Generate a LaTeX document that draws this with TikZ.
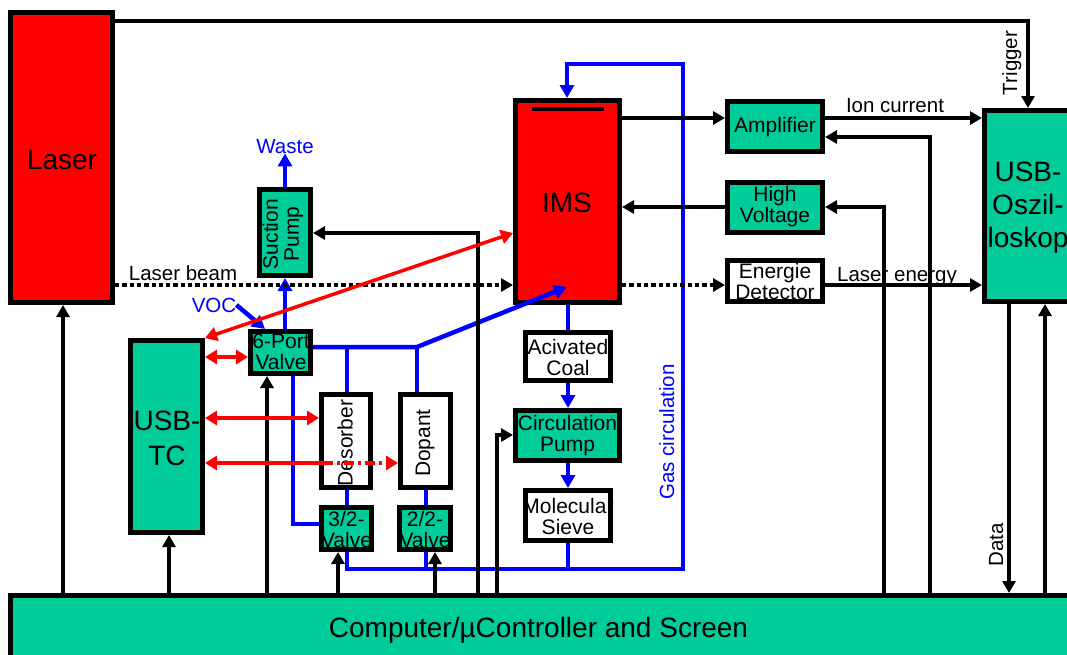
\documentclass[tikz,border=0pt]{standalone}
\usepackage{fontspec}
\setmainfont{Liberation Sans}
\usetikzlibrary{arrows.meta,calc}
\definecolor{grn}{RGB}{0,204,153}
\definecolor{rd}{RGB}{255,0,0}
\definecolor{bl}{RGB}{0,0,255}
\tikzset{
 box/.style={draw=black,line width=5pt,outer sep=2.5pt,inner sep=0pt},
 gbox/.style={box,fill=grn},
 rbox/.style={box,fill=rd},
 wbox/.style={box,fill=white},
 btxt/.style={inner sep=0pt,align=center,font=\fontsize{21}{21}\selectfont},
 bigtxt/.style={inner sep=0pt,align=center,font=\fontsize{28}{35}\selectfont},
 lbl/.style={inner sep=0pt,font=\fontsize{20.5}{24}\selectfont},
 blk/.style={draw=black,line width=4.2pt},
 blu/.style={draw=bl,line width=4.5pt},
 redl/.style={draw=rd,line width=3.5pt},
 beam/.style={draw=black,line width=4.2pt,dash pattern=on 4.3pt off 3pt},
 ka/.style={-{Triangle[length=12pt,width=13pt]}},
 ba/.style={-{Triangle[length=13pt,width=14pt]}},
 rra/.style={{Triangle[length=12pt,width=14pt]}-{Triangle[length=12pt,width=14pt]}},
 rsa/.style={{Triangle[length=12pt,width=14pt]}-},
 rea/.style={-{Triangle[length=12pt,width=14pt]}},
}
\begin{document}
\begin{tikzpicture}[x=1pt,y=-1pt]
\useasboundingbox (0,0) rectangle (1067,654);
\clip (0,0) rectangle (1067,654);
\fill[white] (0,0) rectangle (1067,654);

% ---------- boxes ----------
\node[rbox,minimum width=102,minimum height=290] (laser) at (61.5,157.5) {};
\node[bigtxt] (laserT) at (62,160) {Laser};
\node[rbox,minimum width=104,minimum height=202] (ims) at (567.5,201.5) {};
\node[bigtxt] (imsT) at (567,203) {IMS};
\draw[line width=4pt] (532,109) -- (604,109);
\node[gbox,minimum width=51,minimum height=86] (susp) at (285,232.5) {};
\node[btxt,rotate=90] (suspT) at (283,234) {Suction\\Pump};
\node[gbox,minimum width=60,minimum height=42] (sixp) at (280.5,352.5) {};
\node[btxt] (sixpT) at (281,352) {6-Port\\Valve};
\node[gbox,minimum width=72,minimum height=192] (tc) at (166.5,436.5) {};
\node[bigtxt] (tcT) at (167,438) {USB-\\TC};
\node[wbox,minimum width=49,minimum height=93] (des) at (346,441) {};
\node[btxt,rotate=90] (desT) at (345,443) {Desorber};
\node[wbox,minimum width=50,minimum height=93] (dop) at (425.5,441) {};
\node[btxt,rotate=90] (dopT) at (425,443) {Dopant};
\node[gbox,minimum width=50,minimum height=42] (v32) at (346.5,528.5) {};
\node[btxt] (v32T) at (346.5,529) {3/2-\\Valve};
\node[gbox,minimum width=51,minimum height=42] (v22) at (425,528.5) {};
\node[btxt] (v22T) at (425,529) {2/2-\\Valve};
\node[wbox,minimum width=85,minimum height=48] (coal) at (568,356.5) {};
\node[btxt] (coalT) at (568,357) {Acivated\\Coal};
\node[gbox,minimum width=104,minimum height=50] (circ) at (567.5,435.5) {};
\node[btxt] (circT) at (567.5,436) {Circulation\\Pump};
\node[wbox,minimum width=85,minimum height=50] (sieve) at (568,515.5) {};
\node[btxt] (sieveT) at (568,516) {Molecular\\Sieve};
\node[gbox,minimum width=95,minimum height=50] (amp) at (775,126.5) {};
\node[btxt] (ampT) at (775,127) {Amplifier};
\node[gbox,minimum width=95,minimum height=50] (hv) at (775,207.5) {};
\node[btxt] (hvT) at (775,207) {High\\Voltage};
\node[wbox,minimum width=95,minimum height=41] (ed) at (775,281) {};
\node[btxt] (edT) at (775,281) {Energie\\Detector};
\node[gbox,minimum width=110.5,minimum height=191] (osz) at (1039.75,206) {};
\node[bigtxt,font=\fontsize{28}{33}\selectfont] (oszT) at (1028,208) {USB-\\Oszil-\\loskop};
\node[gbox,minimum width=1089.5,minimum height=104.5] (comp) at (555.25,647.75) {};
\node[inner sep=0pt,font=\fontsize{28}{34}\selectfont,anchor=base] (compT) at (538.5,637) {Computer/µController and Screen};

% ---------- labels ----------
\node[lbl,anchor=base] (beamL) at (183,280) {Laser beam};
\node[lbl,anchor=base] (ionL) at (895,112) {Ion current};
\node[lbl,anchor=base] (enL) at (897,281) {Laser energy};
\node[lbl,text=bl,anchor=base] (waste) at (285,153) {Waste};
\node[lbl,text=bl,anchor=base] (voc) at (214,312) {VOC};
\node[lbl,rotate=90,anchor=base] (trig) at (1017,63) {Trigger};
\node[lbl,rotate=90,anchor=base] (data) at (1003,545) {Data};
\node[lbl,text=bl,rotate=90,anchor=base] (gas) at (674,432) {Gas circulation};

% ---------- blue gas lines ----------
\coordinate (j0) at (347,347);
\coordinate (j1) at (417,347);
\coordinate (imsin) at (567,287);
\coordinate (gb) at (683,569);
\coordinate (gt) at (567,64);
\draw[blu,ba] (susp.north) -- (waste.south);
\draw[blu,ba] (susp.south |- sixp.north) -- (susp.south);
\draw[blu,ba] (voc.east) -- (sixp.north -| 265,0);
\draw[blu,ba] (sixp.east |- j1) -- (j1) -- (imsin);
\draw[blu] (j0) -- (des.north -| j0);
\draw[blu] (j1) -- (dop.north -| j1);
\draw[blu] (des.south -| j0) -- (v32.north -| j0);
\draw[blu] (dop.south -| 426,0) -- (v22.north -| 426,0);
\draw[blu] (sixp.south -| 293,0) |- (v32.west |- 0,524);
\draw[blu,ba] (v32.south -| j0) |- (gb) |- (gt) -- (ims.north -| gt);
\draw[blu] (v22.south -| 426,0) -- (426,0 |- gb);
\draw[blu] (sieve.south) -- (sieve.south |- gb);
\draw[blu] (ims.south -| coal.north) -- (coal.north);
\draw[blu,ba] (coal.south) -- (circ.north -| coal.south);
\draw[blu,ba] (circ.south -| sieve.north) -- (sieve.north);

% ---------- black signal lines ----------
\draw[blk,ka] (laser.east |- 0,21) -| (osz.north -| 1028,0);
\draw[beam,ka] (laser.east |- 0,285) -- (ims.west |- 0,285);
\draw[beam,ka] (ims.east |- 0,285) -- (ed.west |- 0,285);
\draw[blk,ka] (ims.east |- 0,118) -- (amp.west |- 0,118);
\draw[blk,ka] (amp.east |- 0,118) -- (osz.west |- 0,118);
\draw[blk,ka] (hv.west |- 0,207) -- (ims.east |- 0,207);
\draw[blk,ka] (ed.east |- 0,285) -- (osz.west |- 0,285);
\draw[blk,ka] (930,0 |- comp.north) |- (amp.east |- 0,137);
\draw[blk,ka] (884,0 |- comp.north) |- (hv.east |- 0,207);
\draw[blk,ka] (1009,0 |- osz.south) -- (1009,0 |- comp.north);
\draw[blk,ka] (1045,0 |- comp.north) -- (1045,0 |- osz.south);
\draw[blk,ka] (63,0 |- comp.north) -- (63,0 |- laser.south);
\draw[blk,ka] (169,0 |- comp.north) -- (169,0 |- tc.south);
\draw[blk,ka] (267,0 |- comp.north) -- (267,0 |- sixp.south);
\draw[blk,ka] (338,0 |- comp.north) -- (338,0 |- v32.south);
\draw[blk,ka] (435,0 |- comp.north) -- (435,0 |- v22.south);
\draw[blk,ka] (478,0 |- comp.north) |- (susp.east |- 0,233);
\draw[blk,ka] (497,0 |- comp.north) |- (circ.west |- 0,435);

% ---------- red temperature-control lines ----------
\coordinate (rd1) at (323,463);
\draw[redl,rra] (tc.north east) -- (ims.west |- 0,233);
\draw[redl,rra] (tc.east |- 0,357) -- (sixp.west |- 0,357);
\draw[redl,rra] (tc.east |- 0,418) -- (des.west |- 0,418);
\draw[redl,rsa] (tc.east |- rd1) -- (rd1);
\draw[redl,rea,dash pattern=on 10pt off 4pt on 3pt off 4pt] (rd1) -- (dop.west |- rd1);
\end{tikzpicture}
\end{document}
